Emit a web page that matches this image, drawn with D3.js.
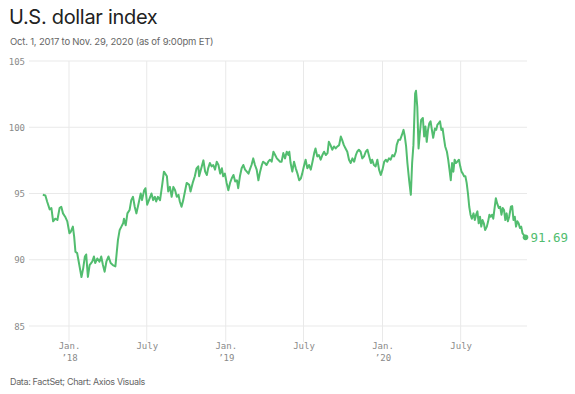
<!DOCTYPE html>
<html>
<head>
<meta charset="utf-8">
<script src="https://cdn.jsdelivr.net/npm/d3@7"></script>
<style>
  html, body { margin: 0; padding: 0; background: #fff; }
  svg { display: block; }
</style>
</head>
<body>
<svg id="chart" width="575" height="394"></svg>
<script>
// ---- Data ----
const startDate = "2017-10-01";
const endDate = "2020-11-29";
// days since Oct. 1, 2017
const dayOffsets = [
  31,37,41,47,51,55,60,65,70,74,78,83,88,93,96,101,104,107,111,116,121,125,129,132,136,140,146,150,153,158,163,167,171,175,179,184,189,194,200,203,206,210,214,218,220,224,228,233,237,241,245,249,254,259,262,267,270,274,280,284,288,292,295,299,304,309,313,
  320,323,327,331,335,339,343,347,350,354,358,362,366,372,375,380,385,389,393,395,400,405,409,413,416,420,424,428,432,436,440,444,448,451,455,459,463,467,471,475,479,483,486,490,494,498,502,506,510,513,517,521,525,529,533,537,541,544,548,552,556,560,564,568,572,576,579,
  583,587,591,595,599,603,605,608,612,616,620,624,628,632,635,639,643,647,651,655,659,663,666,670,674,678,682,686,690,694,697,701,705,709,713,717,721,725,728,732,736,740,744,748,752,756,760,763,767,771,775,779,783,787,791,795,798,802,806,810,814,818,822,826,830,833,837,841,845,849,853,855,859,
  863,867,871,874,877,880,884,888,891,894,898,900,903,906,909,912,916,919,922,925,928,931,934,937,940,944,947,950,953,956,959,962,965,968,972,975,978,981,984,987,990,993,996,1000,1003,1006,1009,1012,1015,1018,1021,1024,1027,1030,1034,1037,1040,1043,1046,1049,1052,1055,1058,1061,1065,1068,1071,1074,1077,1080,1083,1086,1089,1093,1096,1099,1102,1105,1108,1111,1114,1117,1121,1124,1127,1130,1133,1136,1139,1142,1145,1148,1155
];
const indexValues = [
  94.9,94.85,94.4,93.8,93.9,92.9,93.1,93.0,93.9,94.0,93.5,93.25,92.9,92.0,92.1,92.5,91.75,90.6,90.5,89.6,88.7,89.35,90.25,90.4,88.7,89.6,89.85,90.25,89.75,90.1,89.85,90.25,89.6,89.1,89.85,90.25,89.75,89.6,89.5,90.5,91.5,92.25,92.5,92.75,93.1,92.6,93.5,93.75,94.5,94.75,94.0,93.5,94.25,95.0,94.5,95.25,95.4,94.15,94.65,95.0,94.5,94.75,94.4,94.75,94.5,95.65,96.65,
  96.3,95.15,95.5,94.75,95.5,95.25,94.75,94.9,94.4,94.0,94.5,95.15,95.8,95.65,95.15,95.8,96.3,96.9,97.05,96.3,96.9,97.5,96.65,96.4,96.9,97.3,97.05,97.15,96.8,97.4,97.15,96.5,96.9,96.3,96.5,95.8,95.25,95.8,96.15,96.4,95.9,96.0,95.4,96.3,96.9,97.15,96.8,96.65,96.5,96.8,97.15,97.65,97.15,96.8,96.0,96.65,97.15,97.4,97.3,97.15,97.4,97.55,97.4,98.15,97.9,97.65,97.55,
  97.4,97.4,98.05,97.65,98.15,97.9,98.15,97.3,96.65,97.4,96.9,96.5,96.0,96.15,96.5,97.05,97.55,96.9,97.15,96.8,97.4,98.05,98.4,97.8,97.9,97.55,97.9,98.15,97.9,98.05,98.9,98.65,98.3,98.55,98.4,98.55,98.65,99.3,99.05,98.65,98.4,98.15,97.55,97.3,97.65,97.4,97.9,98.15,98.3,98.15,97.65,97.8,98.15,98.3,97.8,97.3,97.55,97.15,97.05,97.55,96.8,96.4,96.8,97.4,97.55,97.4,97.65,97.55,97.9,97.8,98.15,98.65,99.05,
  99.05,99.4,99.8,99.3,98.55,97.3,96.0,94.9,97.3,98.65,102.55,102.75,101.55,98.4,99.55,100.55,100.7,99.3,100.05,98.9,99.8,100.3,100.45,99.8,99.2,99.9,99.8,100.2,100.3,100.45,99.8,99.9,99.2,98.55,98.15,97.55,96.8,96.0,97.3,96.65,97.55,97.3,97.4,97.55,97.05,96.65,96.5,96.3,96.3,95.8,95.0,94.0,93.4,93.1,93.5,93.0,93.4,93.65,92.75,93.25,92.5,93.0,92.75,92.25,92.5,92.9,93.4,93.25,93.4,93.1,93.9,94.65,94.25,93.9,94.0,93.4,93.9,93.75,93.0,93.5,92.9,93.25,94.0,94.05,93.0,93.25,92.5,92.9,92.75,92.4,92.5,92.0,91.69
];
const yTicks = [85, 90, 95, 100, 105];
const xTickDates = ["2018-01-01","2018-07-01","2019-01-01","2019-07-01","2020-01-01","2020-07-01"];
const xTickLabels = [["Jan.","’18"],["July",""],["Jan.","’19"],["July",""],["Jan.","’20"],["July",""]];
const titleText = "U.S. dollar index";
const subtitleText = "Oct. 1, 2017 to Nov. 29, 2020 (as of 9:00pm ET)";
const footerText = "Data: FactSet; Chart: Axios Visuals";

// ---- Drawing ----
const parse = d3.utcParse("%Y-%m-%d");
const t0 = parse(startDate);
const data = dayOffsets.map((d, i) => ({ date: d3.utcDay.offset(t0, d), value: indexValues[i] }));

const svg = d3.select("#chart");
const green = "#52bd6f";
const mono = "'DejaVu Sans Mono', 'Liberation Mono', monospace";
const sans = "Inter, 'Open Sans', sans-serif";

const x = d3.scaleUtc().domain([t0, parse(endDate)]).range([29.5, 525.5]);
const y = d3.scaleLinear().domain([85, 105]).range([326, 61]);

// horizontal grid + y labels
const yAxis = d3.axisLeft(y).tickValues(yTicks).tickSize(0).tickPadding(0).tickFormat(d3.format("d"));
const yg = svg.append("g").attr("transform", "translate(25,0)").call(yAxis);
yg.select(".domain").remove();
yg.selectAll("text").attr("font-family", mono).attr("font-size", 9).attr("fill", "#8a8a8a").attr("dy", "0.34em");

svg.append("g").selectAll("line").data(yTicks).join("line")
  .attr("x1", 29).attr("x2", 527)
  .attr("y1", d => y(d)).attr("y2", d => y(d))
  .attr("stroke", "#e9e9e9").attr("stroke-width", 1);

// vertical grid + x labels
const xDates = xTickDates.map(parse);
svg.append("g").selectAll("line").data(xDates).join("line")
  .attr("x1", d => x(d)).attr("x2", d => x(d))
  .attr("y1", 61).attr("y2", 342)
  .attr("stroke", "#e9e9e9").attr("stroke-width", 1);

const xAxis = d3.axisBottom(x).tickValues(xDates).tickSize(0).tickPadding(0).tickFormat("");
const xg = svg.append("g").attr("transform", "translate(0,349)").call(xAxis);
xg.select(".domain").remove();
xg.selectAll(".tick").each(function(d, i) {
  const g = d3.select(this);
  g.selectAll("text").remove();
  const lab = xTickLabels[i];
  g.append("text").attr("y", 0).attr("text-anchor", "middle")
    .attr("font-family", mono).attr("font-size", 9).attr("fill", "#8a8a8a").text(lab[0]);
  if (lab[1]) g.append("text").attr("y", 12).attr("text-anchor", "middle")
    .attr("font-family", mono).attr("font-size", 9).attr("fill", "#8a8a8a").text(lab[1]);
});

// line
const line = d3.line().x(d => x(d.date)).y(d => y(d.value)).curve(d3.curveLinear);
svg.append("path").datum(data)
  .attr("fill", "none").attr("stroke", green).attr("stroke-width", 2)
  .attr("stroke-linejoin", "round").attr("d", line);

const last = data[data.length - 1];
svg.append("circle").attr("cx", x(last.date)).attr("cy", y(last.value)).attr("r", 2.8).attr("fill", green);
svg.append("text").attr("x", x(last.date) + 5).attr("y", y(last.value)).attr("dy", "0.36em")
  .attr("font-family", mono).attr("font-size", 12.5).attr("fill", green).text(last.value.toFixed(2));

// titles
svg.append("text").attr("x", 9).attr("y", 24).attr("font-family", sans).attr("font-size", 20)
  .attr("fill", "#222").attr("letter-spacing", "-0.3").text(titleText);
svg.append("text").attr("x", 10).attr("y", 45).attr("font-family", sans).attr("font-size", 9.5)
  .attr("fill", "#666").attr("letter-spacing", "-0.2").text(subtitleText);
svg.append("text").attr("x", 10).attr("y", 385).attr("font-family", sans).attr("font-size", 9)
  .attr("fill", "#666").attr("letter-spacing", "-0.35").text(footerText);
</script>
</body>
</html>
